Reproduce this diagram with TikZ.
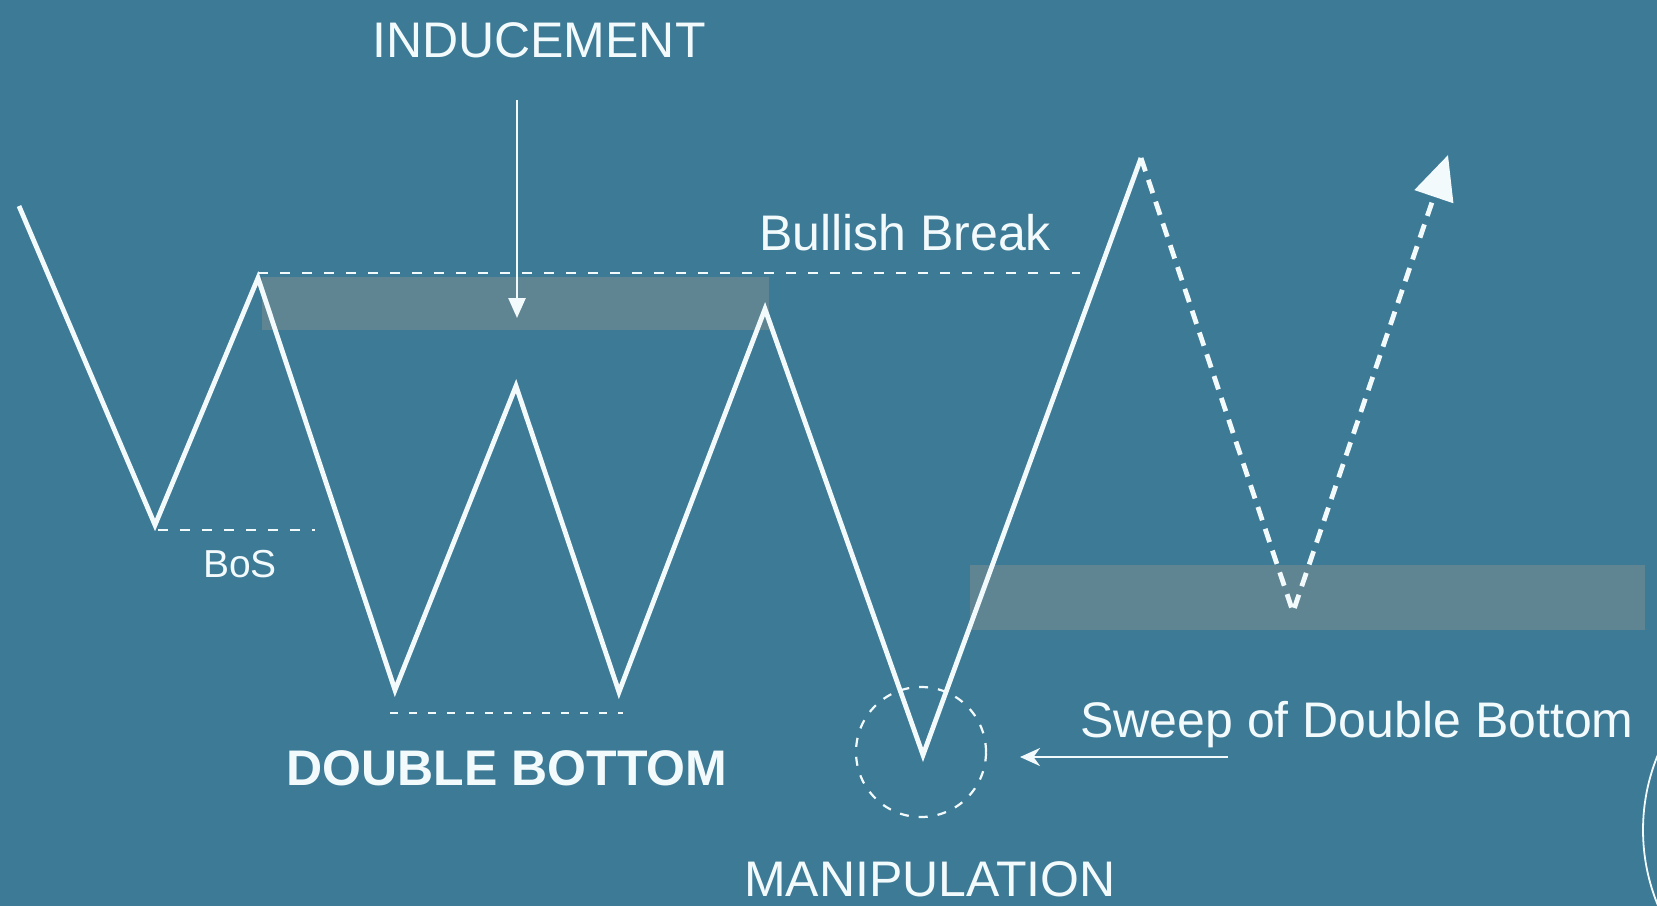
\documentclass[tikz,border=0pt]{standalone}
\usepackage{fontspec}
\setmainfont{Liberation Sans}
\usepackage{tikz}
\usetikzlibrary{arrows.meta}

\definecolor{chartBlue}{HTML}{3C7A96}
\definecolor{zoneGray}{HTML}{5F8593}
\definecolor{chalk}{HTML}{F3FAFC}

\begin{document}
\begin{tikzpicture}[
	x=0.5pt, y=-0.5pt,
	priceLine/.style={chalk, line width=2.4pt},
	futureLine/.style={chalk, line width=2.4pt, dash pattern=on 7pt off 4.5pt},
	levelLine/.style={chalk, line width=1pt, dash pattern=on 5pt off 6pt},
	pointer/.style={chalk, line width=1.3pt},
	chartText/.style={text=chalk, inner sep=0pt, anchor=base, font=\fontsize{25}{30}\selectfont}
]

	% canvas
	\fill[chartBlue] (0,0) rectangle (1657,906);
	\useasboundingbox (0,0) rectangle (1657,906);
	\clip (0,0) rectangle (1657,906);

	% zones
	\fill[zoneGray] (262,277) rectangle (769,330);
	\fill[zoneGray] (970,565) rectangle (1645,630);

	% swing points
	\coordinate (start) at (19,206);
	\coordinate (lowA) at (155,525);
	\coordinate (highA) at (258,278);
	\coordinate (bottomA) at (395,690);
	\coordinate (highB) at (516,386);
	\coordinate (bottomB) at (619,692);
	\coordinate (highC) at (765,309);
	\coordinate (sweep) at (923,755);
	\coordinate (breakHigh) at (1141,158);
	\coordinate (retest) at (1293,612);
	\coordinate (target) at (1448,155);

	% level ends
	\coordinate (breakLeft) at (258,273);
	\coordinate (breakRight) at (1080,273);
	\coordinate (bosLeft) at (158,530);
	\coordinate (bosRight) at (315,530);
	\coordinate (bottomLeft) at (390,713);
	\coordinate (bottomRight) at (623,713);

	\draw[levelLine] (breakLeft) -- (breakRight);
	\draw[levelLine] (bosLeft) -- (bosRight);
	\draw[levelLine, dash pattern=on 4pt off 5.5pt] (bottomLeft) -- (bottomRight);

	\draw[priceLine] (start) -- (lowA) -- (highA) -- (bottomA) -- (highB)
		-- (bottomB) -- (highC) -- (sweep) -- (breakHigh);

	\draw[futureLine, -{Triangle[length=22pt, width=20pt]}]
		(breakHigh) -- (retest) -- (target);

	% manipulation
	\node[
		circle,
		draw=chalk,
		line width=1.1pt,
		dash pattern=on 4.5pt off 5pt,
		minimum size=65pt,
		inner sep=0pt
	] (trap) at (921,752) {};

	% labels
	\node[chartText] (inducement) at (539,57) {INDUCEMENT};
	\node[chartText] (bullish) at (905,250) {Bullish Break};
	\node[chartText, font=\fontsize{19.5}{24}\selectfont] (bos) at (240,577) {BoS};
	\node[chartText, font=\bfseries\fontsize{25}{30}\selectfont] (doubleBottom) at (507,785) {DOUBLE BOTTOM};
	\node[chartText] (manipulation) at (930,896) {MANIPULATION};
	\node[chartText] (sweepText) at (1357,737) {Sweep of Double Bottom};

	% pointers
	\coordinate (inducementTail) at (517,100);
	\coordinate (inducementHead) at (517,318);
	\coordinate (sweepTail) at (1228,757);
	\coordinate (sweepHead) at (1020,757);

	\draw[pointer, -{Triangle[length=10pt, width=8.5pt]}] (inducementTail) -- (inducementHead);
	\draw[pointer, -{Stealth[length=10pt, width=9pt]}] (sweepTail) -- (sweepHead);

	% watermark edge
	\draw[chalk, line width=0.9pt] (1840,830) circle[radius=98.5pt];

\end{tikzpicture}
\end{document}
